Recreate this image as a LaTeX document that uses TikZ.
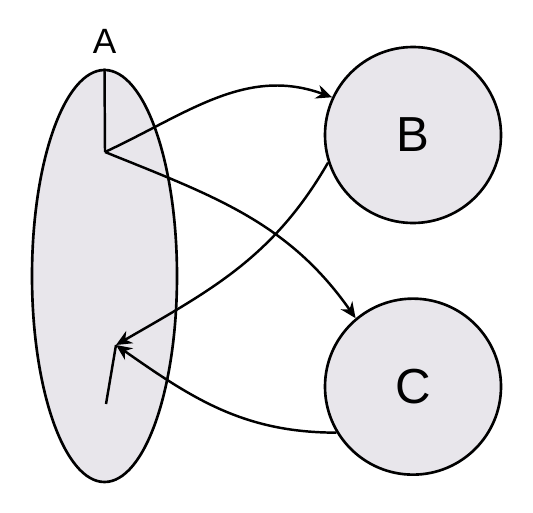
\documentclass[tikz,border=0pt]{standalone}
\usepackage{fontspec}
\setmainfont{Liberation Sans}
\usepackage{tikz}
\usetikzlibrary{shapes.geometric,arrows.meta,positioning}

\definecolor{setfill}{RGB}{232,230,235}

\begin{document}
\begin{tikzpicture}[
  set/.style={ellipse, draw=black, line width=1.5pt, fill=setfill,
              minimum width=2.9cm, minimum height=8.24cm},
  disc/.style={circle, draw=black, line width=1.5pt, fill=setfill,
               minimum size=3.52cm, font=\fontsize{28}{30}\selectfont},
  arr/.style={-{Stealth[length=9pt,width=8pt]}, line width=1.4pt, black}
]
\useasboundingbox (0,0) rectangle (10.66,10.24);
\node[set] (A) at (2.09,4.72) {};
\node[above=0.3cm of A, inner sep=0pt, font=\fontsize{20}{22}\selectfont] (lblA) {A};
\node[disc] (B) at (8.26,7.54) {B};
\node[disc, below=1.46cm of B] (C) {C};
% points inside A
\coordinate (fork) at (2.10,7.20);
\coordinate (pt) at (2.32,3.34);
\coordinate (tail) at (2.12,2.16);
\draw[line width=1.4pt] (A.north) -- (fork);
\draw[line width=1.4pt] (pt) -- (tail);
\draw[arr] (fork) to[out=25, in=160] (B.155);
\draw[arr] (fork) to[out=-22, in=125] (C.130);
\draw[arr] (B.198) to[out=240, in=30] (pt);
\draw[arr] (C.211) to[out=180, in=-35] (pt);
\end{tikzpicture}
\end{document}
